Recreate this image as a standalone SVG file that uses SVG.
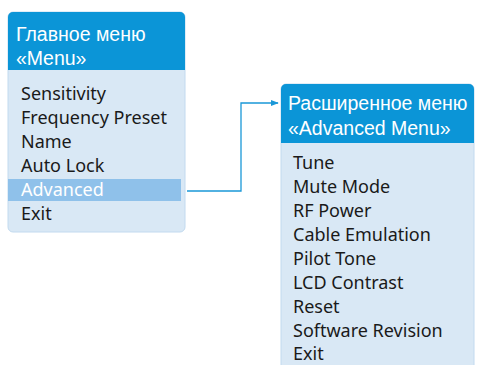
<svg xmlns="http://www.w3.org/2000/svg" width="480" height="365" viewBox="0 0 480 365">
<defs>
<style>
.body{fill:#d9e8f5;stroke:#c2daef;stroke-width:1}
.head{fill:#0b95d7}
.ht{font-family:"Liberation Sans",Arial,sans-serif;font-size:19.5px;fill:#ffffff}
.it{font-family:"Noto Sans","DejaVu Sans",sans-serif;font-size:18px;fill:#1a1a1a}
.hl{fill:#8fc1ea}
.conn{fill:none;stroke:#1a98d8;stroke-width:1.3}
</style>
<marker id="arr" viewBox="0 0 10 10" refX="9" refY="5" markerWidth="8" markerHeight="8" markerUnits="userSpaceOnUse" orient="auto">
<path d="M0,1 L10,5 L0,9 Z" fill="#1a98d8"/>
</marker>
</defs>
<rect width="480" height="365" fill="#ffffff"/>
<g id="menu">
<rect class="body" x="8" y="12" width="177" height="220" rx="5"/>
<path class="head" d="M8,70 V17 a5,5 0 0 1 5,-5 H180 a5,5 0 0 1 5,5 V70 Z"/>
<text class="ht" x="16" y="41">Главное меню</text>
<text class="ht" x="16" y="65">«Menu»</text>
<rect class="hl" x="8" y="179" width="173" height="22"/>
<text class="it" x="21" y="100">Sensitivity</text>
<text class="it" x="21" y="124">Frequency Preset</text>
<text class="it" x="21" y="148">Name</text>
<text class="it" x="21" y="172">Auto Lock</text>
<text class="it" x="21" y="196" style="fill:#ffffff">Advanced</text>
<text class="it" x="21" y="220">Exit</text>
</g>
<g id="advanced">
<rect class="body" x="281" y="84" width="193" height="300" rx="5"/>
<path class="head" d="M281,143 V89 a5,5 0 0 1 5,-5 H469 a5,5 0 0 1 5,5 V143 Z"/>
<text class="ht" x="288" y="110">Расширенное меню</text>
<text class="ht" x="288" y="135">«Advanced Menu»</text>
<text class="it" x="293" y="169">Tune</text>
<text class="it" x="293" y="193">Mute Mode</text>
<text class="it" x="293" y="217">RF Power</text>
<text class="it" x="293" y="241">Cable Emulation</text>
<text class="it" x="293" y="265">Pilot Tone</text>
<text class="it" x="293" y="289">LCD Contrast</text>
<text class="it" x="293" y="313">Reset</text>
<text class="it" x="293" y="337">Software Revision</text>
<text class="it" x="293" y="360">Exit</text>
</g>
<g id="connectors">
<path class="conn" d="M187,191 H241 V103 H278" marker-end="url(#arr)"/>
</g>
</svg>
